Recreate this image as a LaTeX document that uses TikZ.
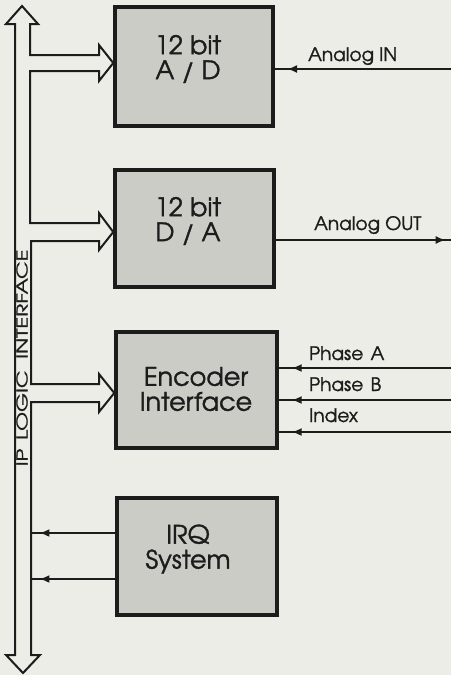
\documentclass[tikz,border=0pt]{standalone}
\usepackage{fontspec}
\setmainfont[FakeBold=1.3]{TeX Gyre Adventor}
\usetikzlibrary{arrows.meta,decorations.markings}
\definecolor{bg}{HTML}{EDEDE7}
\definecolor{boxfill}{HTML}{CCCCC7}
\definecolor{ink}{HTML}{1C1C1C}
\begin{document}
\begin{tikzpicture}[x=1pt,y=-1pt,
  block/.style={draw=ink,line width=3.5pt,fill=boxfill,inner sep=0pt},
  blocktext/.style={align=center,text=ink,font=\fontsize{25.5}{25}\selectfont,inner sep=0pt},
  wire/.style={draw=ink,line width=2pt},
  lbl/.style={anchor=base west,text=ink,font=\fontsize{18.5}{20}\selectfont,inner sep=0pt},
  tipat/.style={postaction={decorate,decoration={markings,
     mark=at position #1 with {\arrow{Latex[length=10pt,width=8pt]}}}}},
  bus/.style={draw=ink,line width=2pt,line join=miter,fill=bg},
]
\fill[bg] (0,0) rectangle (451,675);
\useasboundingbox (0,0) rectangle (451,675);

% blocks
\node[block,minimum width=158pt,minimum height=119pt] (ad)  at (194,66.5) {};
\node[block,minimum width=159pt,minimum height=117pt] (da)  at (194.5,228.5) {};
\node[block,minimum width=161pt,minimum height=116pt] (enc) at (196.5,390) {};
\node[block,minimum width=160pt,minimum height=117pt] (irq) at (197,556.5) {};

\node[blocktext] (adt)  at (188,59)  {12 bit\\A / D};
\node[blocktext] (dat)  at (188,221) {12 bit\\D / A};
\node[blocktext] (enct) at (196,389) {Encoder\\Interface};
\node[blocktext] (irqt) at (188,549) {IRQ\\System};

% bus outline
\draw[bus]
  (30,24) -- (30,55) -- (99,55) -- (99,45) -- (ad.west |- 0,63) -- (99,81) -- (99,71)
  -- (30,71) -- (30,223) -- (99,223) -- (99,213) -- (da.west |- 0,232) -- (99,250) -- (99,241)
  -- (31,241) -- (31,384) -- (99,384) -- (99,374) -- (enc.west |- 0,393) -- (99,412) -- (99,402)
  -- (31,402) -- (31,655) -- (40,655) -- (23,673) -- (6,655) -- (15,655)
  -- (15,24) -- (6,24) -- (22,6) -- (38,24) -- cycle;

\node[rotate=90,text=ink,font=\fontsize{15}{16}\selectfont,inner sep=0pt] (busl) at (22,358)
  {\scalebox{1.45}[1]{IP\hspace{6pt}LOGIC\hspace{8pt}INTERFACE}};

% IRQ lines to bus
\coordinate (b1) at (31,533);
\coordinate (b2) at (31,579);
\draw[wire,tipat=0.9] (irq.west |- b1) -- (b1);
\draw[wire,tipat=0.9] (irq.west |- b2) -- (b2);

% right side signals
\coordinate (ain)  at (451,69);
\coordinate (aout) at (451,240);
\coordinate (pa)   at (451,368);
\coordinate (pb)   at (451,400);
\coordinate (ix)   at (451,432);
\draw[wire,tipat=0.93] (ain) -- (ad.east |- ain);
\draw[wire,tipat=0.97] (da.east |- aout) -- (aout);
\draw[wire,tipat=0.925] (pa) -- (enc.east |- pa);
\draw[wire,tipat=0.925] (pb) -- (enc.east |- pb);
\draw[wire,tipat=0.925] (ix) -- (enc.east |- ix);

\node[lbl] (lain)  at (308,61)  {Analog IN};
\node[lbl] (laout) at (314,230) {Analog OUT};
\node[lbl] (lpa)   at (309,360) {Phase\hspace{0.4em}A};
\node[lbl] (lpb)   at (309,391) {Phase\hspace{0.4em}B};
\node[lbl] (lix)   at (309,422) {Index};
\end{tikzpicture}
\end{document}
